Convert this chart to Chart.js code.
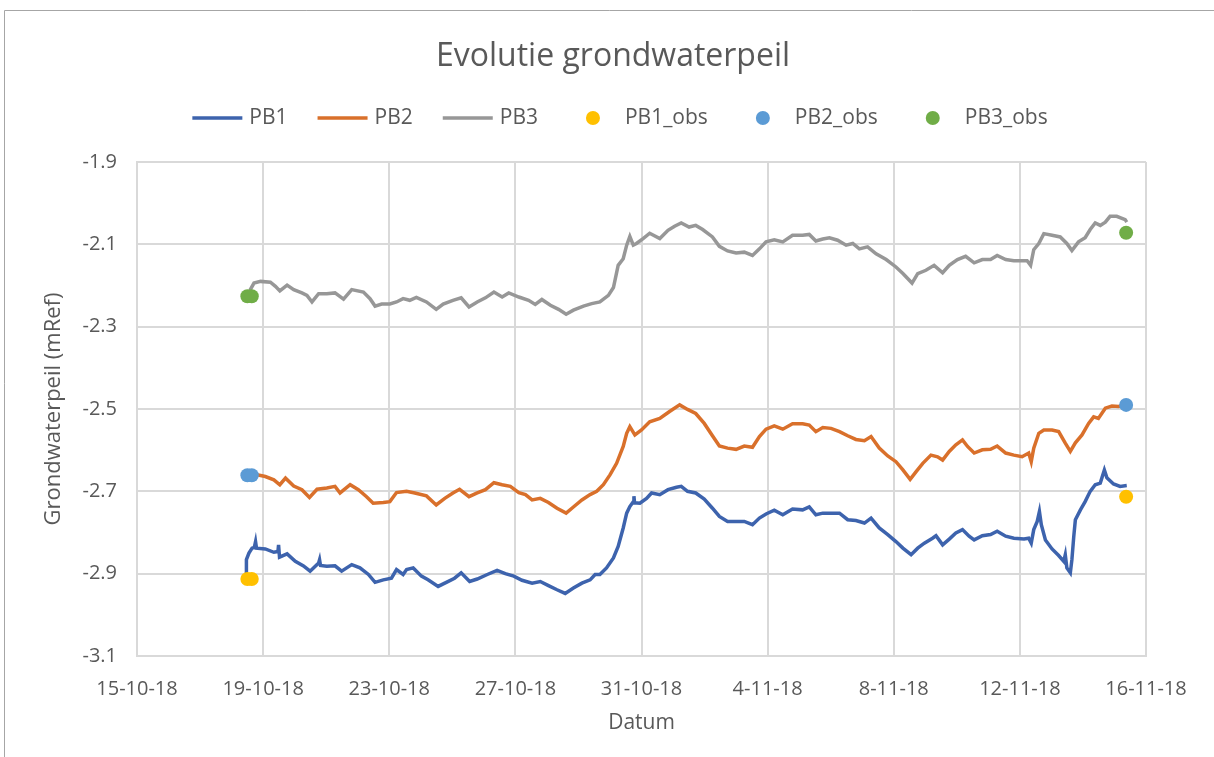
<!DOCTYPE html>
<html>
<head>
<meta charset="utf-8">
<style>
  html, body { margin: 0; padding: 0; background: #fff; }
  #wrap { position: relative; width: 1214px; height: 757px; }
</style>
</head>
<body>
<div id="wrap"><canvas id="levelChart"></canvas></div>

<script src="https://cdn.jsdelivr.net/npm/chart.js"></script>

<script>
  // x values are days counted from 15-10-18 00:00
  const xTickDays = [0, 4, 8, 12, 16, 20, 24, 28, 32];
  const xTickLabels = ['15-10-18', '19-10-18', '23-10-18', '27-10-18', '31-10-18',
                       '4-11-18', '8-11-18', '12-11-18', '16-11-18'];
  const yTicks = [-3.1, -2.9, -2.7, -2.5, -2.3, -2.1, -1.9];

  const pb1Days = [3.46, 3.47, 3.55, 3.65, 3.72, 3.76, 3.79, 4.07, 4.34, 4.47, 4.49, 4.52, 4.76, 5.02,
    5.28, 5.49, 5.76, 5.79, 5.82, 6.02, 6.28, 6.49, 6.81, 7.07, 7.34, 7.55, 7.81, 8.07, 8.23, 8.44,
    8.55, 8.76, 9.02, 9.23, 9.55, 9.81, 10.07, 10.28, 10.55, 10.79, 11.11, 11.42, 11.68, 11.95, 12.21,
    12.53, 12.79, 13.05, 13.32, 13.58, 13.84, 14.11, 14.37, 14.53, 14.68, 14.89, 15.11, 15.26, 15.42,
    15.53, 15.63, 15.74, 15.76, 15.78, 15.95, 16.16, 16.32, 16.58, 16.84, 17.11, 17.26, 17.46, 17.72,
    17.99, 18.25, 18.47, 18.73, 19.00, 19.26, 19.52, 19.74, 19.95, 20.21, 20.48, 20.79, 21.11, 21.32,
    21.53, 21.75, 22.01, 22.28, 22.54, 22.80, 23.07, 23.28, 23.54, 23.81, 24.07, 24.29, 24.55, 24.76,
    24.97, 25.23, 25.34, 25.55, 25.76, 25.97, 26.18, 26.39, 26.55, 26.81, 27.07, 27.28, 27.55, 27.81,
    28.13, 28.28, 28.36, 28.44, 28.55, 28.62, 28.68, 28.81, 29.02, 29.23, 29.39, 29.44, 29.49, 29.60,
    29.65, 29.71, 29.76, 29.92, 30.07, 30.23, 30.39, 30.55, 30.68, 30.76, 30.97, 31.18, 31.39];
  const pb1Level = [-2.905, -2.866, -2.850, -2.838, -2.836, -2.822, -2.838, -2.840, -2.848, -2.846,
    -2.830, -2.860, -2.852, -2.870, -2.881, -2.894, -2.874, -2.866, -2.880, -2.882, -2.881, -2.894,
    -2.878, -2.886, -2.902, -2.921, -2.915, -2.911, -2.890, -2.902, -2.890, -2.886, -2.906, -2.915,
    -2.931, -2.921, -2.911, -2.898, -2.919, -2.913, -2.902, -2.892, -2.900, -2.906, -2.916, -2.923,
    -2.919, -2.929, -2.939, -2.948, -2.935, -2.923, -2.915, -2.902, -2.902, -2.886, -2.862, -2.834,
    -2.789, -2.753, -2.737, -2.725, -2.712, -2.728, -2.729, -2.717, -2.704, -2.708, -2.696, -2.690,
    -2.688, -2.700, -2.704, -2.719, -2.741, -2.761, -2.773, -2.773, -2.773, -2.781, -2.765, -2.755,
    -2.746, -2.757, -2.743, -2.745, -2.738, -2.757, -2.753, -2.753, -2.753, -2.769, -2.771, -2.777,
    -2.765, -2.789, -2.805, -2.822, -2.838, -2.854, -2.838, -2.826, -2.814, -2.808, -2.830, -2.816,
    -2.801, -2.793, -2.809, -2.818, -2.808, -2.805, -2.797, -2.809, -2.814, -2.816, -2.814, -2.826,
    -2.793, -2.773, -2.749, -2.781, -2.818, -2.840, -2.856, -2.870, -2.854, -2.886, -2.898, -2.866,
    -2.809, -2.769, -2.745, -2.725, -2.700, -2.684, -2.680, -2.648, -2.667, -2.682, -2.688, -2.686];

  const pb2Days = [3.62, 3.81, 4.07, 4.34, 4.53, 4.71, 4.97, 5.23, 5.47, 5.71, 6.02, 6.28, 6.44, 6.76,
    7.02, 7.28, 7.49, 7.81, 8.02, 8.23, 8.55, 8.81, 9.18, 9.49, 9.76, 10.02, 10.23, 10.53, 10.79, 11.05,
    11.32, 11.58, 11.84, 12.11, 12.32, 12.53, 12.79, 13.05, 13.32, 13.61, 13.84, 14.11, 14.37, 14.58,
    14.79, 15.00, 15.21, 15.42, 15.53, 15.63, 15.79, 16.00, 16.26, 16.58, 16.89, 17.21, 17.46, 17.72,
    17.99, 18.25, 18.47, 18.73, 19.00, 19.26, 19.52, 19.74, 19.95, 20.21, 20.48, 20.79, 21.11, 21.32,
    21.53, 21.75, 22.01, 22.28, 22.54, 22.80, 23.07, 23.28, 23.54, 23.81, 24.07, 24.29, 24.52, 24.71,
    24.92, 25.18, 25.39, 25.55, 25.76, 25.97, 26.18, 26.34, 26.55, 26.81, 27.07, 27.28, 27.55, 27.81,
    28.07, 28.28, 28.36, 28.44, 28.60, 28.76, 29.02, 29.23, 29.44, 29.60, 29.76, 29.97, 30.18, 30.34,
    30.49, 30.71, 30.92, 31.13, 31.34];
  const pb2Level = [-2.660, -2.660, -2.664, -2.672, -2.684, -2.668, -2.687, -2.696, -2.715, -2.695,
    -2.692, -2.688, -2.704, -2.684, -2.696, -2.713, -2.729, -2.727, -2.725, -2.703, -2.700, -2.704,
    -2.711, -2.733, -2.717, -2.704, -2.695, -2.713, -2.704, -2.696, -2.679, -2.684, -2.688, -2.703,
    -2.708, -2.721, -2.717, -2.727, -2.741, -2.753, -2.738, -2.721, -2.708, -2.700, -2.684, -2.660,
    -2.632, -2.591, -2.559, -2.543, -2.563, -2.551, -2.531, -2.523, -2.506, -2.490, -2.501, -2.511,
    -2.535, -2.565, -2.590, -2.595, -2.598, -2.590, -2.593, -2.567, -2.549, -2.541, -2.549, -2.536,
    -2.536, -2.539, -2.555, -2.545, -2.547, -2.555, -2.565, -2.574, -2.577, -2.567, -2.595, -2.614,
    -2.628, -2.648, -2.671, -2.652, -2.632, -2.612, -2.616, -2.624, -2.603, -2.587, -2.575, -2.591,
    -2.607, -2.599, -2.598, -2.590, -2.607, -2.612, -2.616, -2.607, -2.628, -2.595, -2.559, -2.551,
    -2.551, -2.555, -2.583, -2.603, -2.582, -2.563, -2.535, -2.519, -2.523, -2.498, -2.493, -2.494,
    -2.490];

  const pb3Days = [3.58, 3.71, 3.92, 4.23, 4.39, 4.53, 4.76, 4.97, 5.23, 5.39, 5.55, 5.76, 6.02, 6.28,
    6.55, 6.81, 7.18, 7.39, 7.55, 7.76, 8.02, 8.23, 8.44, 8.65, 8.86, 9.18, 9.49, 9.71, 10.02, 10.28,
    10.53, 10.79, 11.05, 11.32, 11.58, 11.79, 12.11, 12.42, 12.63, 12.84, 13.11, 13.37, 13.61, 13.84,
    14.16, 14.42, 14.68, 14.95, 15.11, 15.26, 15.42, 15.53, 15.63, 15.74, 15.84, 16.05, 16.26, 16.58,
    16.84, 17.05, 17.26, 17.51, 17.72, 17.94, 18.25, 18.47, 18.73, 19.00, 19.26, 19.52, 19.74, 19.95,
    20.21, 20.48, 20.79, 21.11, 21.32, 21.53, 21.75, 21.96, 22.22, 22.49, 22.70, 22.91, 23.17, 23.44,
    23.76, 24.07, 24.29, 24.58, 24.76, 25.02, 25.28, 25.55, 25.76, 26.02, 26.28, 26.55, 26.81, 27.07,
    27.28, 27.55, 27.81, 28.23, 28.34, 28.44, 28.60, 28.76, 29.02, 29.28, 29.49, 29.65, 29.86, 30.07,
    30.23, 30.39, 30.55, 30.71, 30.86, 31.07, 31.34, 31.39];
  const pb3Level = [-2.212, -2.194, -2.190, -2.192, -2.202, -2.213, -2.199, -2.210, -2.218, -2.224,
    -2.240, -2.220, -2.220, -2.218, -2.233, -2.210, -2.216, -2.232, -2.250, -2.245, -2.245, -2.240,
    -2.232, -2.236, -2.229, -2.240, -2.258, -2.245, -2.236, -2.230, -2.252, -2.240, -2.230, -2.216,
    -2.228, -2.218, -2.228, -2.236, -2.246, -2.234, -2.248, -2.258, -2.270, -2.260, -2.250, -2.244,
    -2.240, -2.224, -2.205, -2.151, -2.135, -2.102, -2.081, -2.102, -2.098, -2.086, -2.073, -2.086,
    -2.066, -2.056, -2.048, -2.058, -2.054, -2.064, -2.082, -2.105, -2.116, -2.121, -2.119, -2.127,
    -2.111, -2.094, -2.089, -2.094, -2.078, -2.078, -2.076, -2.092, -2.087, -2.084, -2.090, -2.102,
    -2.098, -2.111, -2.106, -2.123, -2.137, -2.155, -2.171, -2.194, -2.171, -2.163, -2.151, -2.169,
    -2.151, -2.137, -2.129, -2.145, -2.137, -2.137, -2.127, -2.137, -2.140, -2.140, -2.151, -2.113,
    -2.098, -2.074, -2.078, -2.082, -2.098, -2.115, -2.094, -2.084, -2.064, -2.048, -2.054, -2.046,
    -2.032, -2.032, -2.040, -2.046];

  // manual readings
  const obsDays = [3.50, 3.64, 31.37];
  const pb1Obs = [-2.913, -2.913, -2.713];
  const pb2Obs = [-2.661, -2.661, -2.490];
  const pb3Obs = [-2.226, -2.226, -2.072];

  const chartTitle = 'Evolutie grondwaterpeil';
  const textColor = '#595959';
  const gridColor = '#d9d9d9';
  const fontFamily = '"Open Sans", sans-serif';
  Chart.defaults.font.family = fontFamily;
  Chart.defaults.color = textColor;

  function toPoints(days, values) {
      return days.map((d, i) => ({ x: d, y: values[i] }));
  }

  function lineSet(label, days, values, color) {
      return {
          label: label,
          data: toPoints(days, values),
          showLine: true,
          borderColor: color,
          backgroundColor: color,
          borderWidth: 3.5,
          pointRadius: 0,
          tension: 0,
          order: 2,
      };
  }

  function obsSet(label, values, color) {
      return {
          label: label,
          data: toPoints(obsDays, values),
          showLine: false,
          borderColor: color,
          backgroundColor: color,
          pointRadius: 7,
          pointBorderWidth: 0,
          order: 1,
      };
  }

  // white page plus the thin frame round the chart
  const frame = {
      id: 'frame',
      beforeDraw(chart) {
          const ctx = chart.ctx;
          ctx.save();
          ctx.fillStyle = '#fff';
          ctx.fillRect(0, 0, chart.width, chart.height);
          ctx.strokeStyle = '#a6a6a6';
          ctx.lineWidth = 1;
          ctx.beginPath();
          ctx.moveTo(4.5, chart.height);
          ctx.lineTo(4.5, 10.5);
          ctx.lineTo(chart.width, 10.5);
          ctx.stroke();
          ctx.restore();
      }
  };

  // title and a one-row legend: 50px line sample (or a dot centred in it), then the label
  const header = {
      id: 'header',
      afterDraw(chart) {
          const ctx = chart.ctx;
          const mid = 620;
          ctx.save();
          ctx.fillStyle = textColor;
          ctx.textAlign = 'center';
          ctx.textBaseline = 'middle';
          ctx.font = '32px ' + fontFamily;
          ctx.fillText(chartTitle, mid - 7, 57);

          const items = chart.data.datasets;
          const sample = 50, textGap = 7, itemGap = 30, y = 118;
          ctx.textAlign = 'left';
          ctx.font = '21px ' + fontFamily;
          let total = 0;
          items.forEach((ds, i) => {
              total += sample + textGap + ctx.measureText(ds.label).width;
              if (i < items.length - 1) total += itemGap;
          });
          let x = mid - total / 2;
          items.forEach(ds => {
              if (ds.showLine) {
                  ctx.strokeStyle = ds.borderColor;
                  ctx.lineWidth = 3.5;
                  ctx.beginPath();
                  ctx.moveTo(x, y);
                  ctx.lineTo(x + sample, y);
                  ctx.stroke();
              } else {
                  ctx.fillStyle = ds.backgroundColor;
                  ctx.beginPath();
                  ctx.arc(x + sample / 2, y, 7, 0, Math.PI * 2);
                  ctx.fill();
              }
              ctx.fillStyle = textColor;
              ctx.fillText(ds.label, x + sample + textGap, y);
              x += sample + textGap + ctx.measureText(ds.label).width + itemGap;
          });
          ctx.restore();
      }
  };

  const ctx = document.getElementById('levelChart');
  const levelChart = new Chart(ctx, {
      type: 'scatter',
      plugins: [frame, header],
      data: {
          datasets: [
              lineSet('PB1', pb1Days, pb1Level, '#3d63ad'),
              lineSet('PB2', pb2Days, pb2Level, '#d9702b'),
              lineSet('PB3', pb3Days, pb3Level, '#979797'),
              obsSet('PB1_obs', pb1Obs, '#ffc000'),
              obsSet('PB2_obs', pb2Obs, '#5b9bd5'),
              obsSet('PB3_obs', pb3Obs, '#70ad47'),
          ]
      },
      options: {
          responsive: true,
          maintainAspectRatio: false,
          animation: false,
          layout: {
              padding: { left: 0, right: 68, top: 162, bottom: 0 }
          },
          plugins: {
              legend: { display: false },
              tooltip: { enabled: false },
              title: { display: false }
          },
          scales: {
              x: {
                  type: 'linear',
                  min: 0,
                  max: 32,
                  afterBuildTicks: scale => {
                      scale.ticks = xTickDays.map(v => ({ value: v }));
                  },
                  afterFit: scale => {
                      scale.height = 101;
                  },
                  ticks: {
                      autoSkip: false,
                      maxRotation: 0,
                      padding: 21,
                      font: { size: 20 },
                      callback: v => xTickLabels[xTickDays.indexOf(v)]
                  },
                  grid: { color: gridColor, lineWidth: 2, drawTicks: false },
                  border: { color: gridColor, width: 2 },
                  title: {
                      display: true,
                      text: 'Datum',
                      font: { size: 21 },
                      padding: { top: 0, bottom: 21 }
                  }
              },
              y: {
                  min: -3.1,
                  max: -1.9,
                  afterBuildTicks: scale => {
                      scale.ticks = yTicks.map(v => ({ value: v }));
                  },
                  afterFit: scale => {
                      scale.width = 137;
                  },
                  ticks: {
                      padding: 20,
                      font: { size: 20 },
                      callback: v => v.toFixed(1)
                  },
                  grid: { color: gridColor, lineWidth: 2, drawTicks: false },
                  border: { color: gridColor, width: 2 },
                  title: {
                      display: true,
                      text: 'Grondwaterpeil (mRef)',
                      font: { size: 22 },
                      padding: { top: 41, bottom: 0 }
                  }
              }
          }
      }
  });
</script>
</body>
</html>
